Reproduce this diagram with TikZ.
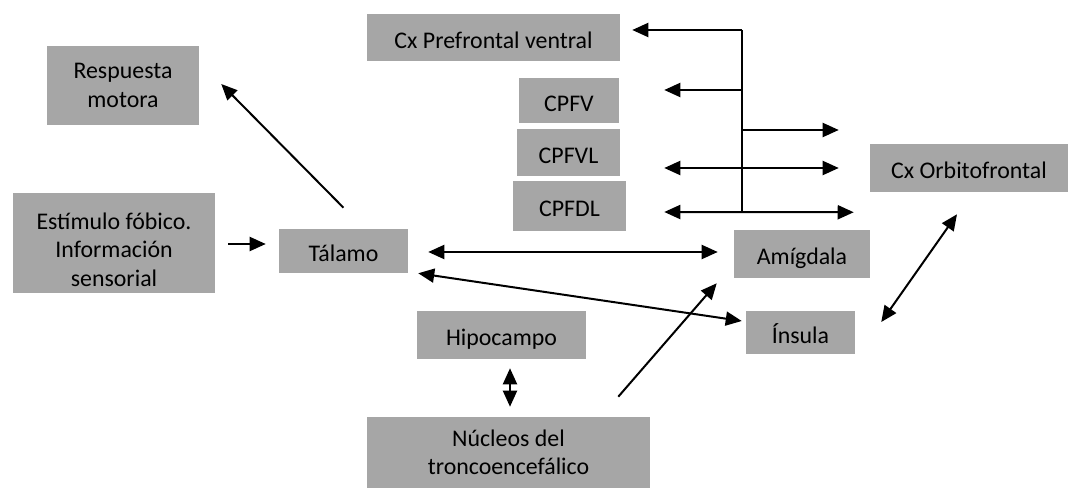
\documentclass[tikz,border=0pt]{standalone}
\usepackage{fontspec}
\setmainfont{Carlito}
\usetikzlibrary{arrows.meta,calc}

\definecolor{boxgray}{HTML}{A6A6A6}
\tikzstyle{block} = [fill=boxgray, rectangle, inner sep=0pt, align=center,
    font=\fontsize{17.9}{21.4}\selectfont]
\tikzstyle{oneline} = [block, text height=16pt, text depth=0pt]
\tikzstyle{link} = [line width=1.5pt]
\tikzset{boxsize/.style 2 args={minimum width=#1*0.75pt, minimum height=#2*0.75pt}}

\begin{document}
\begin{tikzpicture}[x=0.75pt, y=-0.75pt, >={Triangle[length=12pt,width=10.5pt]}]
    \useasboundingbox (0,0) rectangle (1068,488);
    % We start by placing the blocks
    \node [block, boxsize={152}{79}] (resp) at (123,85.5) {Respuesta\\motora};
    \node [block, boxsize={202}{100}] (estim) at (114,243)
        {\rule{0pt}{22pt}Estímulo fóbico.\\Información\\sensorial};
    \node [oneline, boxsize={129}{44}] (tal) at (343.5,251) {Tálamo};
    \node [oneline, boxsize={253}{47}] (cxpf) at (493.5,37.5) {Cx Prefrontal ventral};
    \node [oneline, boxsize={100}{45}] (cpfv) at (569,100.5) {CPFV};
    \node [oneline, boxsize={103}{47}] (cpfvl) at (568.5,152.5) {CPFVL};
    \node [oneline, boxsize={113}{50}] (cpfdl) at (569.5,206) {CPFDL};
    \node [oneline, boxsize={198}{48}] (orb) at (969,168) {Cx Orbitofrontal};
    \node [oneline, boxsize={136}{48}] (amig) at (802,254) {Amígdala};
    \node [oneline, boxsize={109}{43}] (ins) at (800.5,332.5) {Ínsula};
    \node [oneline, boxsize={169}{48}] (hip) at (501.5,335) {Hipocampo};
    \node [block, boxsize={283}{71}] (nuc) at (508.5,452.5) {Núcleos del\\troncoencefálico};

    % the prefrontal trunk
    \coordinate (jt) at (742,30);
    \coordinate (j1) at (742,90);
    \coordinate (j2) at (742,130);
    \coordinate (jb) at (742,212);
    \draw [link] (jt) -- (jb);
    \draw [link,->] (jt) -- ($(cxpf.east)+(12,-7.5)$);
    \draw [link,->] (j1) -- ($(cpfv.east)+(45,-10.5)$);
    \draw [link,->] (j2) -- ($(orb.west)+(-31,-38)$);
    \draw [link,<->] ($(cpfvl.east)+(44,15.5)$) -- ($(orb.west)+(-31,0)$);
    \draw [link,<->] ($(cpfdl.east)+(38,6)$) -- ($(orb.south west)+(-16,20)$);

    % the other connections
    \draw [link,->] ($(estim.east)+(13,1)$) -- ($(tal.west)+(-13,-7)$);
    \draw [link,->] ($(tal.north)+(0,-21)$) -- ($(resp.east)+(22,-1.5)$);
    \draw [link,<->] ($(tal.east)+(20,1)$) -- ($(amig.west)+(-16,-2)$);
    \draw [link,<->] ($(tal.south east)+(10,0)$) -- ($(ins.west)+(-4,-11.5)$);
    \draw [link,->] ($(nuc.north east)+(-32,-20)$) -- ($(amig.south west)+(-17,5)$);
    \draw [link,<->] ($(hip.south)+(8.5,9)$) -- ($(nuc.north)+(1.5,-10)$);
    \draw [link,<->] ($(orb.south)+(-12,22)$) -- ($(ins.east)+(26,-10.5)$);
\end{tikzpicture}
\end{document}
